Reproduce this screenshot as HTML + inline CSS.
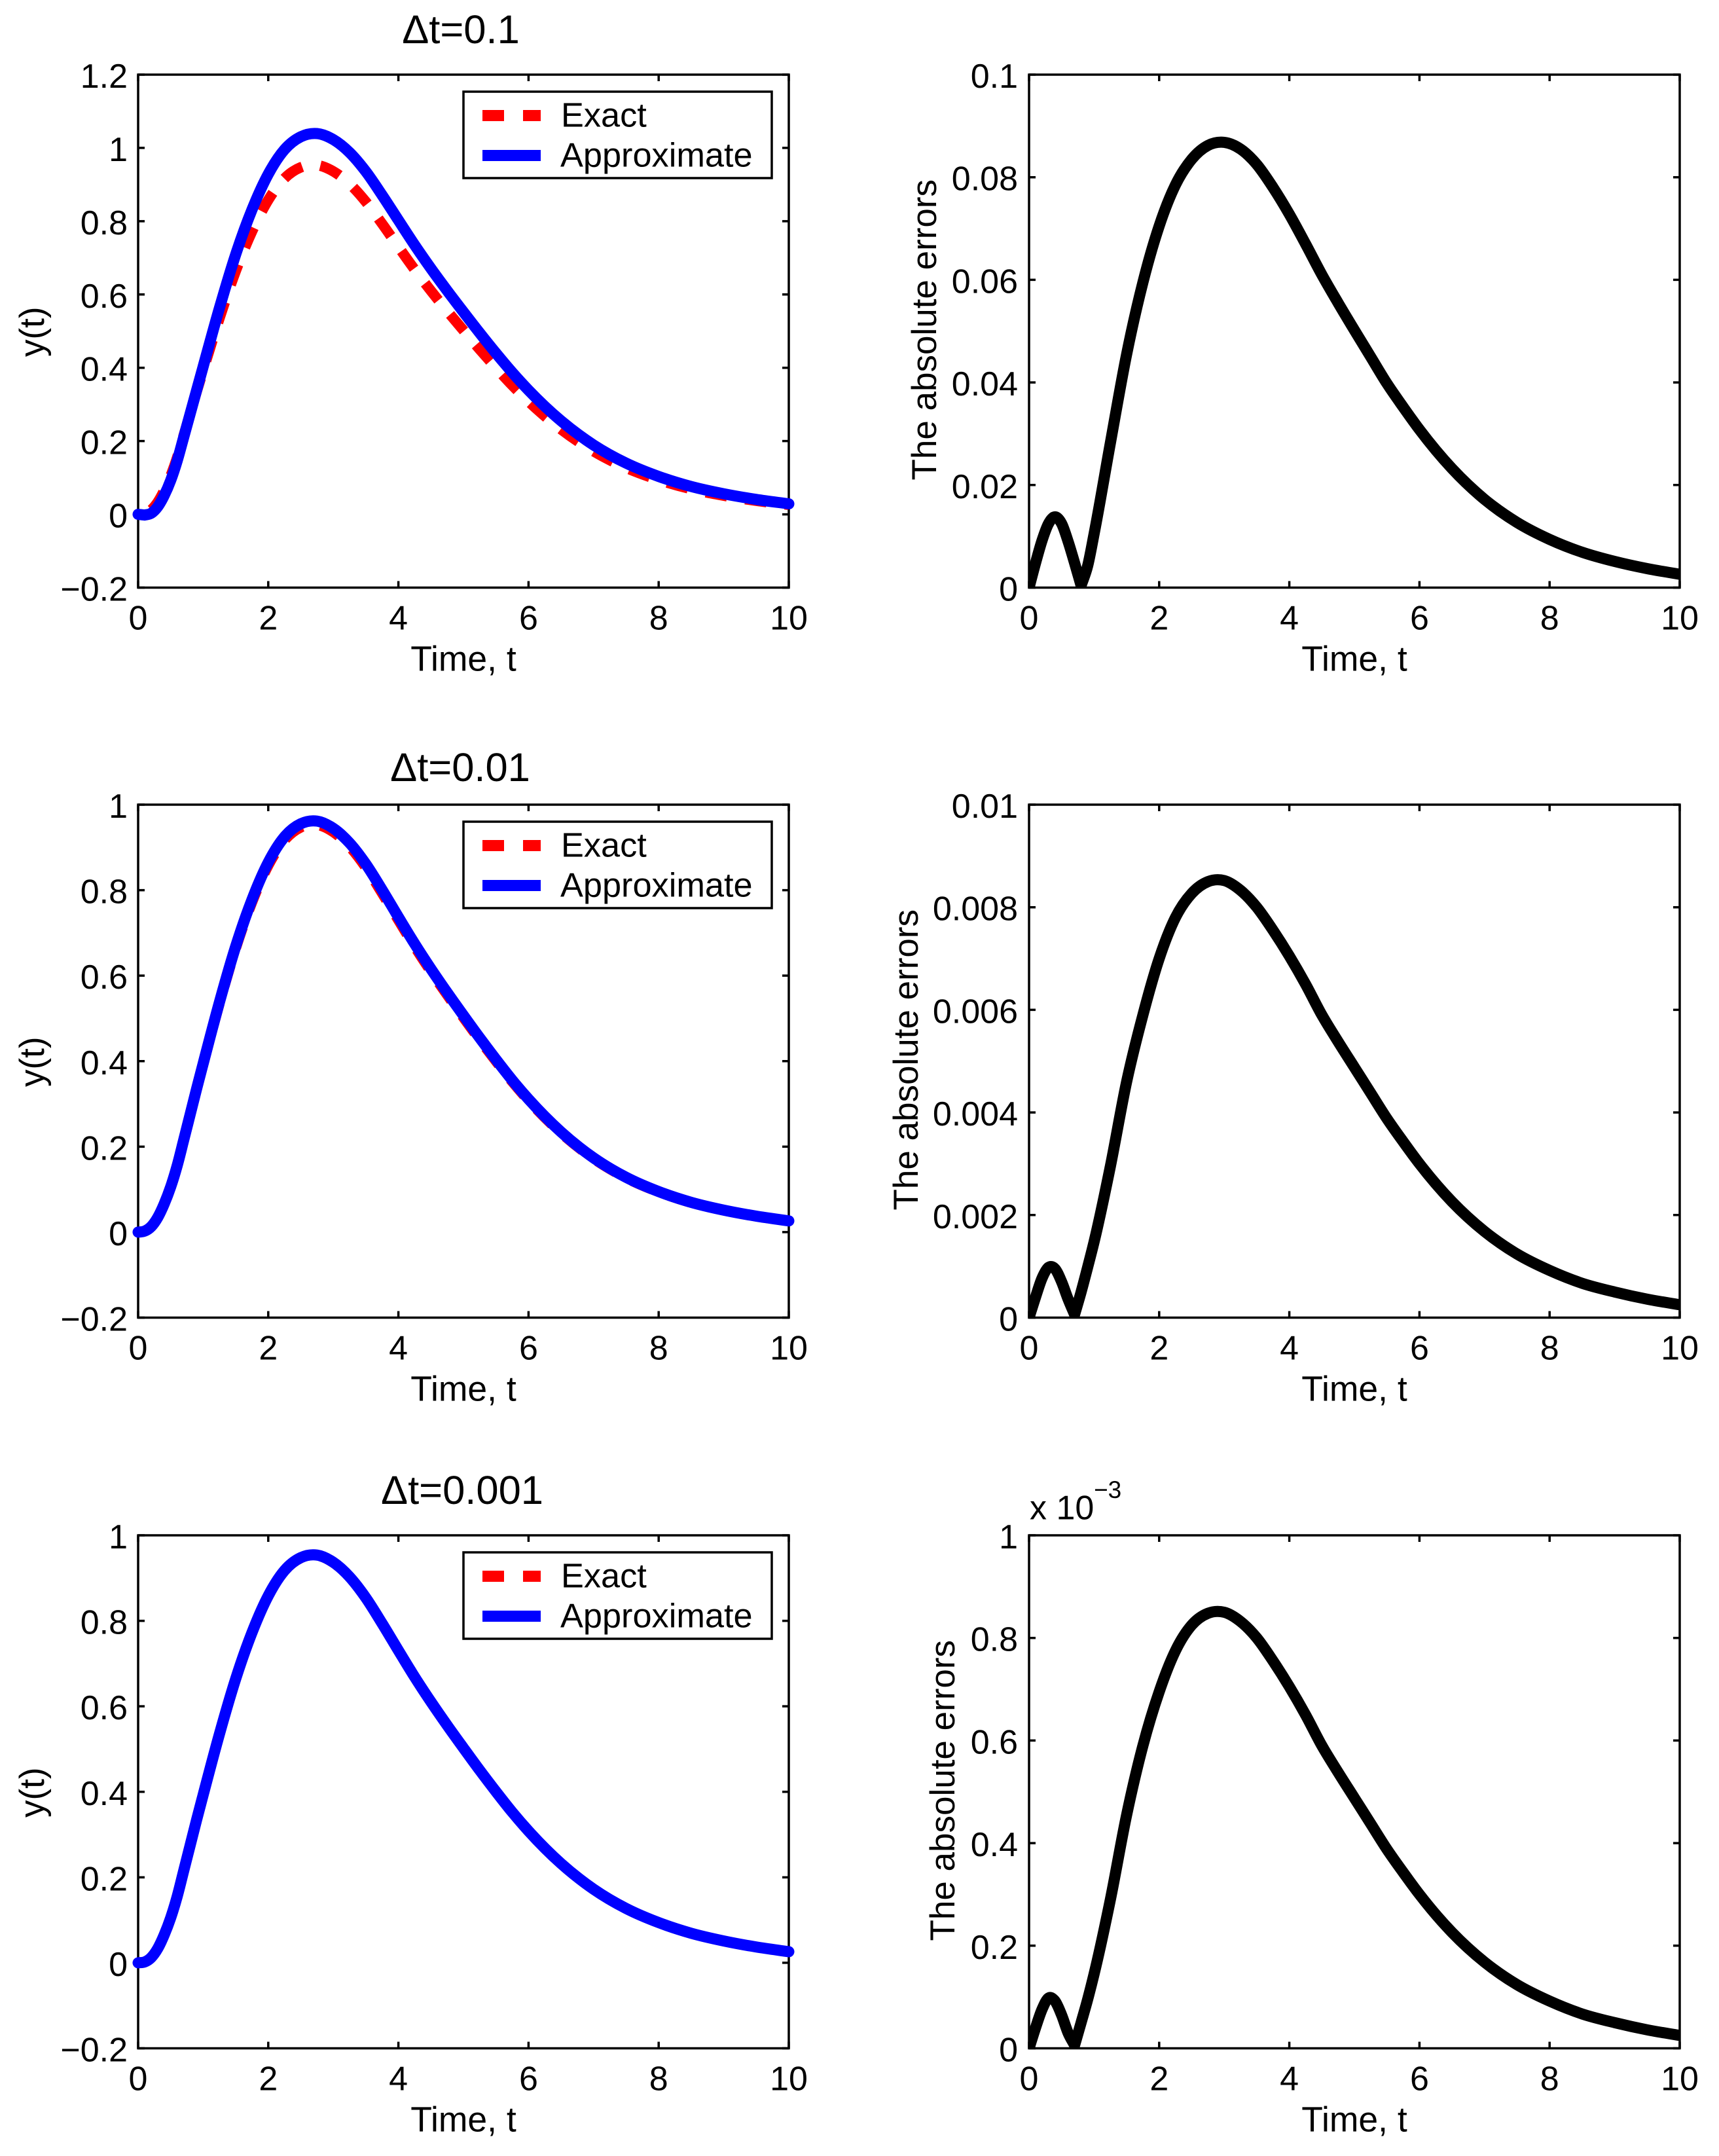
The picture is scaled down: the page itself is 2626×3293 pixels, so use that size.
<!DOCTYPE html>
<html lang="en">
<head>
<meta charset="utf-8">
<title>Exact and approximate solutions with absolute errors</title>
<style>
html,body{margin:0;padding:0;background:#fff;}
svg{display:block;}
text{font-family:"Liberation Sans",Arial,sans-serif;fill:#000;}
</style>
</head>
<body>
<svg id="chart" xmlns="http://www.w3.org/2000/svg" width="2626" height="3293" viewBox="0 0 2626 3293"></svg>
<script>
// ---- Data ----
const timePoints = [0,0.1,0.2,0.3,0.4,0.5,0.6,0.7,0.8,0.9,1,1.25,1.5,1.75,2,2.25,2.5,2.75,3,3.25,3.5,3.75,4,4.25,4.5,4.75,5,5.25,5.5,5.75,6,6.5,7,7.5,8,8.5,9,9.5,10];

const exactValues = [0,0.002,0.012,0.033,0.065,0.105,0.155,0.215,0.275,0.335,0.393,0.535,0.664,0.772,0.858,0.917,0.947,0.953,0.936,0.902,0.853,0.793,0.73,0.668,0.61,0.555,0.502,0.45,0.4,0.352,0.308,0.232,0.172,0.127,0.094,0.069,0.051,0.037,0.026];

const approxValuesCoarse = [0,-0.002,0.0028,0.0205,0.0512,0.0925,0.146,0.2102,0.2746,0.3392,0.4035,0.5632,0.7095,0.8315,0.9285,0.9955,1.0305,1.0392,1.0228,0.9875,0.9355,0.871,0.8028,0.735,0.671,0.6105,0.5522,0.495,0.4398,0.3872,0.3388,0.2552,0.1892,0.1397,0.1034,0.0759,0.0561,0.0407,0.0286];
const approxValuesMedium = [0,0.0024,0.0128,0.034,0.0659,0.1057,0.1554,0.2151,0.2755,0.336,0.3945,0.538,0.6686,0.7779,0.865,0.9248,0.9553,0.9615,0.9445,0.9103,0.861,0.8006,0.737,0.6745,0.6159,0.5604,0.5069,0.4544,0.4039,0.3554,0.311,0.2343,0.1737,0.1282,0.0949,0.0697,0.0515,0.0374,0.0263];
const approxValuesFine = [0,0.002,0.0121,0.0331,0.0651,0.1051,0.155,0.215,0.275,0.3351,0.3931,0.5353,0.6645,0.7726,0.8587,0.9178,0.9478,0.9538,0.9369,0.9028,0.8538,0.7938,0.7307,0.6686,0.6106,0.5555,0.5025,0.4504,0.4004,0.3523,0.3083,0.2322,0.1722,0.1271,0.0941,0.0691,0.0511,0.037,0.026];

const errorValuesCoarse = [0,0.0048,0.0092,0.0125,0.0138,0.0125,0.009,0.0048,0.0004,0.0042,0.0105,0.0282,0.0455,0.0595,0.0705,0.0785,0.0835,0.0862,0.0868,0.0855,0.0825,0.078,0.0728,0.067,0.061,0.0555,0.0502,0.045,0.0398,0.0352,0.0308,0.0232,0.0172,0.0127,0.0094,0.0069,0.0051,0.0037,0.0026];
const errorValuesMedium = [0,0.0004,0.00077,0.00098,0.00095,0.0007,0.00036,0.00006,0.0005,0.00098,0.00148,0.00295,0.0046,0.0059,0.007,0.0078,0.00827,0.0085,0.00852,0.00833,0.008,0.00755,0.00705,0.0065,0.0059,0.00538,0.00488,0.00438,0.00388,0.00343,0.003,0.00226,0.00168,0.00124,0.00092,0.00067,0.0005,0.00036,0.00025];
const errorValuesFine = [0,0.04,0.076,0.098,0.092,0.065,0.03,0.006,0.05,0.095,0.145,0.29,0.455,0.59,0.695,0.775,0.825,0.848,0.85,0.832,0.8,0.755,0.705,0.65,0.59,0.538,0.488,0.438,0.388,0.343,0.3,0.226,0.168,0.124,0.092,0.067,0.05,0.036,0.025];

const xTickValues = [0,2,4,6,8,10];
const xTickLabels = ['0','2','4','6','8','10'];
const yTicksSolutionCoarse = [-0.2,0,0.2,0.4,0.6,0.8,1,1.2];
const yLabelsSolutionCoarse = ['\u22120.2','0','0.2','0.4','0.6','0.8','1','1.2'];
const yTicksSolution = [-0.2,0,0.2,0.4,0.6,0.8,1];
const yLabelsSolution = ['\u22120.2','0','0.2','0.4','0.6','0.8','1'];
const yTicksErrorCoarse = [0,0.02,0.04,0.06,0.08,0.1];
const yLabelsErrorCoarse = ['0','0.02','0.04','0.06','0.08','0.1'];
const yTicksErrorMedium = [0,0.002,0.004,0.006,0.008,0.01];
const yLabelsErrorMedium = ['0','0.002','0.004','0.006','0.008','0.01'];
const yTicksErrorFine = [0,0.2,0.4,0.6,0.8,1];
const yLabelsErrorFine = ['0','0.2','0.4','0.6','0.8','1'];

const titleTexts = ['\u0394t=0.1','\u0394t=0.01','\u0394t=0.001'];

// ---- Drawing ----
const NS = 'http://www.w3.org/2000/svg';
const root = document.getElementById('chart');

function make(tag, attrs, parent) {
  const el = document.createElementNS(NS, tag);
  for (const k in attrs) el.setAttribute(k, attrs[k]);
  (parent || root).appendChild(el);
  return el;
}
function addText(name, str, x, y, size, anchor, parent, rotate) {
  const el = make('text', {x: x, y: y, 'font-size': size, 'text-anchor': anchor}, parent);
  
  
  if (rotate) el.setAttribute('transform', 'rotate(-90 ' + x + ' ' + y + ')');
  el.textContent = str;
  return el;
}
function makeScale(d0, d1, r0, r1) {
  return function (v) { return r0 + (v - d0) / (d1 - d0) * (r1 - r0); };
}
// smooth Hermite path through the data points, with a sharp corner at each valley
function curvePath(xs, ys) {
  const n = xs.length, s = [], mL = [], mR = [];
  for (let i = 0; i < n - 1; i++) s.push((ys[i + 1] - ys[i]) / (xs[i + 1] - xs[i]));
  mL[0] = mR[0] = s[0];
  mL[n - 1] = mR[n - 1] = s[n - 2];
  for (let i = 1; i < n - 1; i++) {
    if (s[i - 1] > 0 && s[i] < 0) {
      mL[i] = s[i - 1];
      mR[i] = s[i];
    } else {
      const h0 = xs[i] - xs[i - 1], h1 = xs[i + 1] - xs[i];
      mL[i] = mR[i] = (s[i - 1] * h1 + s[i] * h0) / (h0 + h1);
    }
  }
  let d = 'M' + xs[0].toFixed(2) + ' ' + ys[0].toFixed(2);
  for (let i = 0; i < n - 1; i++) {
    const h = (xs[i + 1] - xs[i]) / 3;
    d += 'C' + (xs[i] + h).toFixed(2) + ' ' + (ys[i] + mR[i] * h).toFixed(2) + ' ' +
         (xs[i + 1] - h).toFixed(2) + ' ' + (ys[i + 1] - mL[i + 1] * h).toFixed(2) + ' ' +
         xs[i + 1].toFixed(2) + ' ' + ys[i + 1].toFixed(2);
  }
  return d;
}
function drawAxes(g, box, sx, sy, yTicks, yLabels, yLabelRight) {
  const TICK = 10;
  const frame = make('rect', {x: box.x0, y: box.y0, width: box.x1 - box.x0, height: box.y1 - box.y0, fill: 'none', stroke: '#000', 'stroke-width': 3.5}, g);
  
  
  xTickValues.forEach(function (v, i) {
    const px = sx(v);
    const t = make('path', {d: 'M' + px + ' ' + box.y1 + 'V' + (box.y1 - TICK) + 'M' + px + ' ' + box.y0 + 'V' + (box.y0 + TICK), stroke: '#000', 'stroke-width': 3.5, fill: 'none'}, g);
    
    
    addText('x-tick-label', xTickLabels[i], px, box.y1 + 64, 52, 'middle', g);
  });
  yTicks.forEach(function (v, i) {
    const py = sy(v);
    const t = make('path', {d: 'M' + box.x0 + ' ' + py + 'H' + (box.x0 + TICK) + 'M' + box.x1 + ' ' + py + 'H' + (box.x1 - TICK), stroke: '#000', 'stroke-width': 3.5, fill: 'none'}, g);
    
    
    addText('y-tick-label', yLabels[i], yLabelRight, py + 20, 52, 'end', g);
  });
}
function drawLegend(g, box) {
  const top = box.y0 + 26;
  const legend = make('g', {}, g);
  
  
  const frame = make('rect', {x: 708, y: top, width: 471, height: 132, fill: '#fff', stroke: '#000', 'stroke-width': 3.5}, legend);
  
  
  const s1 = make('line', {x1: 737, x2: 826, y1: top + 36.5, y2: top + 36.5, stroke: '#f00', 'stroke-width': 17, 'stroke-dasharray': '33 29'}, legend);
  
  
  addText('legend-label-exact', 'Exact', 857, top + 53.5, 52.3, 'start', legend);
  const s2 = make('line', {x1: 737, x2: 826, y1: top + 97.5, y2: top + 97.5, stroke: '#00f', 'stroke-width': 17}, legend);
  
  
  addText('legend-label-approximate', 'Approximate', 856, top + 114.5, 52.3, 'start', legend);
}
// place the dash pattern so that a gap falls over the curve's crest, as in the figure
function alignDashGap(pathEl, targetX) {
  const total = pathEl.getTotalLength();
  let lo = 0, hi = total;
  for (let i = 0; i < 30; i++) {
    const mid = (lo + hi) / 2;
    if (pathEl.getPointAtLength(mid).x < targetX) lo = mid; else hi = mid;
  }
  pathEl.setAttribute('stroke-dashoffset', (33 + 14 - lo).toFixed(1));
}
function drawSolutionPanel(idx, box, yMin, yMax, yTicks, yLabels, approx, titleX, titleY) {
  const g = make('g', {});
  
  
  const sx = makeScale(0, 10, box.x0, box.x1);
  const sy = makeScale(yMin, yMax, box.y1, box.y0);
  const xs = timePoints.map(sx);
  drawAxes(g, box, sx, sy, yTicks, yLabels, 195);
  const ex = make('path', {d: curvePath(xs, exactValues.map(sy)), fill: 'none', stroke: '#f00', 'stroke-width': 16, 'stroke-dasharray': '33 28'}, g);
  
  
  alignDashGap(ex, sx(2.66));
  const ap = make('path', {d: curvePath(xs, approx.map(sy)), fill: 'none', stroke: '#00f', 'stroke-width': 17, 'stroke-linecap': 'round', 'stroke-linejoin': 'round'}, g);
  
  
  drawLegend(g, box);
  addText('panel-title', titleTexts[idx], titleX, titleY, 61.5, 'middle', g);
  addText('x-axis-title', 'Time, t', 708, box.y1 + 127, 53.5, 'middle', g);
  addText('y-axis-title', 'y(t)', 67, (box.y0 + box.y1) / 2 + 1, 53, 'middle', g, true);
}
function drawErrorPanel(idx, box, yMax, yTicks, yLabels, err, yTitleX) {
  const g = make('g', {});
  
  
  const sx = makeScale(0, 10, box.x0, box.x1);
  const sy = makeScale(0, yMax, box.y1, box.y0);
  const clipId = 'clip-error-' + idx;
  const clip = make('clipPath', {id: clipId}, g);
  make('rect', {x: box.x0, y: box.y0, width: box.x1 - box.x0, height: box.y1 - box.y0}, clip);
  const line = make('path', {d: curvePath(timePoints.map(sx), err.map(sy)), fill: 'none', stroke: '#000', 'stroke-width': 17, 'stroke-linejoin': 'round', 'clip-path': 'url(#' + clipId + ')'}, g);
  
  
  drawAxes(g, box, sx, sy, yTicks, yLabels, 1555);
  addText('x-axis-title', 'Time, t', 2069, box.y1 + 127, 53.5, 'middle', g);
  addText('y-axis-title', 'The absolute errors', yTitleX, (box.y0 + box.y1) / 2 - 2, 53, 'middle', g, true);
  return g;
}

const rowTops = [114, 1229, 2345];
const rowBottoms = [897.5, 2012.5, 3128.5];
function leftBox(r) { return {x0: 211, x1: 1205, y0: rowTops[r], y1: rowBottoms[r]}; }
function rightBox(r) { return {x0: 1572, x1: 2566, y0: rowTops[r], y1: rowBottoms[r]}; }

drawSolutionPanel(0, leftBox(0), -0.2, 1.2, yTicksSolutionCoarse, yLabelsSolutionCoarse, approxValuesCoarse, 704, 66);
drawSolutionPanel(1, leftBox(1), -0.2, 1, yTicksSolution, yLabelsSolution, approxValuesMedium, 703, 1193);
drawSolutionPanel(2, leftBox(2), -0.2, 1, yTicksSolution, yLabelsSolution, approxValuesFine, 706, 2297);

drawErrorPanel(0, rightBox(0), 0.1, yTicksErrorCoarse, yLabelsErrorCoarse, errorValuesCoarse, 1430);
drawErrorPanel(1, rightBox(1), 0.01, yTicksErrorMedium, yLabelsErrorMedium, errorValuesMedium, 1402);
const lastPanel = drawErrorPanel(2, rightBox(2), 1, yTicksErrorFine, yLabelsErrorFine, errorValuesFine, 1458);

addText('axis-multiplier', 'x 10', 1573, 2320.5, 52, 'start', lastPanel);
addText('axis-multiplier-exponent', '\u22123', 1671, 2288, 37, 'start', lastPanel);
</script>
</body>
</html>
